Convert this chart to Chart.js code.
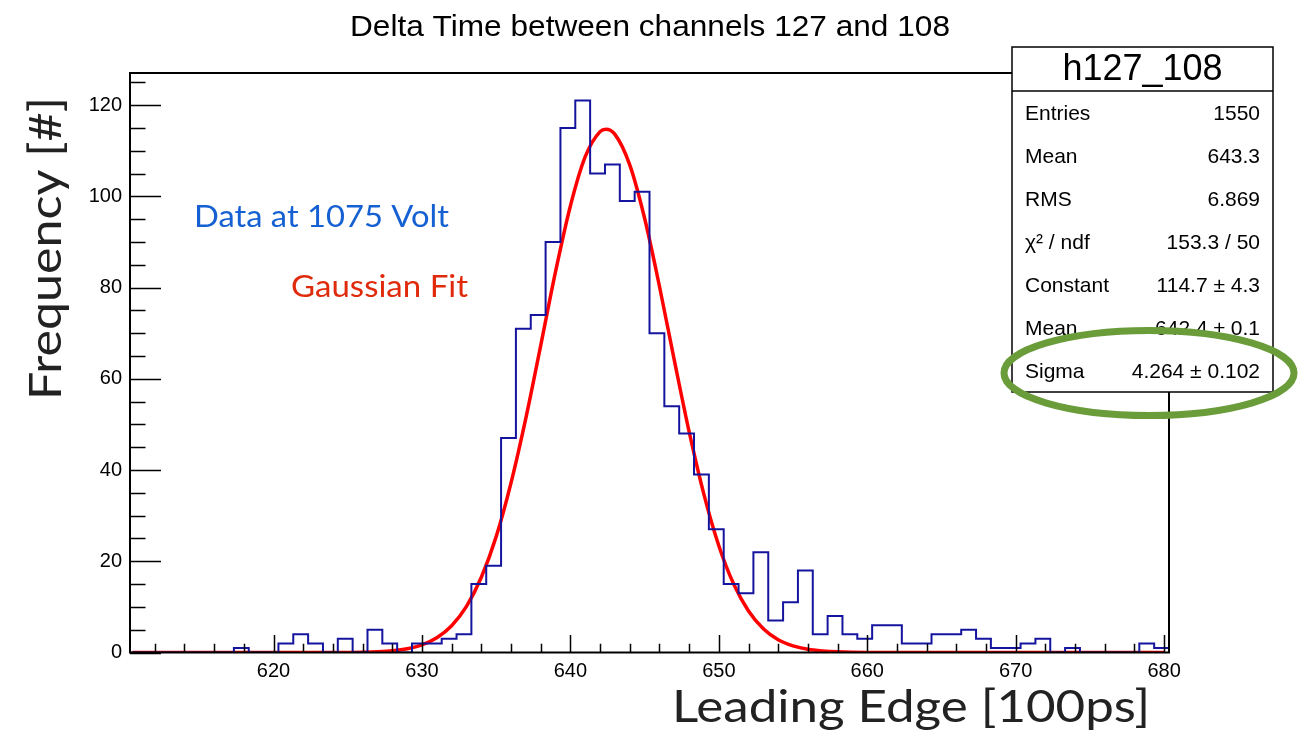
<!DOCTYPE html>
<html>
<head>
<meta charset="utf-8">
<script src="https://cdn.jsdelivr.net/npm/chart.js@4/dist/chart.umd.min.js"></script>
<style>
html,body{margin:0;padding:0;background:#fff;overflow:hidden}
canvas{display:block}
</style>
</head>
<body>
<canvas id="c" width="1298" height="736"></canvas>
<script>
// ---------- data ----------
const binLow = 610.33;
const binWidth = 1;
const counts = [
  0,0,0,0,0,0,0,1,0,0,
  2,4,2,0,3,0,5,2,0,2,
  2,3,4,15,19,47,71,74,90,115,
  121,105,107,99,101,70,54,48,39,27,
  15,13,22,7,11,18,4,8,4,3,
  6,6,2,2,4,4,5,3,1,1,
  2,3,0,1,0,0,0,0,2,1
];
const fitX = [610.5,620,624,626,627,628,629,630,631,632,633,634,635,636,637,638,639,640,641,642,642.4,643,644,645,646,647,648,649,650,651,652,653,654,655,656,657,658,660,670,680];
const fitY = [0,0,0.01,0.07,0.17,0.38,0.82,1.67,3.22,5.86,10.1,16.5,25.4,37.2,51.4,67.3,83.5,97.9,108.7,114.2,114.7,113.6,106.9,95.2,80.3,64.1,48.4,34.6,23.4,15.0,9.1,5.2,2.8,1.46,0.7,0.33,0.14,0.02,0,0];
const xTicks = [620,630,640,650,660,670,680];
const yTicks = [0,20,40,60,80,100,120];
const yMax = 127.05;
const chartTitle = 'Delta Time between channels 127 and 108';
const xTitle = 'Leading Edge [100ps]';
const yTitle = 'Frequency [#]';
const statsName = 'h127_108';
const statsLabels = ['Entries','Mean','RMS','\u03C7\u00B2 / ndf','Constant','Mean','Sigma'];
const statsValues = ['1550','643.3','6.869','153.3 / 50','114.7 \u00B1 4.3','642.4 \u00B1 0.1','4.264 \u00B1 0.102'];
const noteData = 'Data at 1075 Volt';
const noteFit = 'Gaussian Fit';

// ---------- build datasets ----------
const histPoints = counts.map((c, i) => ({x: binLow + i * binWidth, y: c}));
histPoints.push({x: binLow + counts.length * binWidth, y: counts[counts.length - 1]});
const fitPoints = fitX.map((x, i) => ({x: x, y: fitY[i]}));

const SANS = '"Liberation Sans", Arial, Helvetica, sans-serif';
const GEO = 'Lato, "Open Sans", sans-serif';

function drawText(ctx, text, x, y, o) {
  ctx.save();
  ctx.font = (o.weight || 'normal') + ' ' + o.size + 'px ' + o.family;
  ctx.fillStyle = o.color || '#000';
  ctx.textBaseline = o.baseline || 'alphabetic';
  ctx.textAlign = 'left';
  ctx.translate(x, y);
  if (o.rotate) ctx.rotate(o.rotate);
  const w = ctx.measureText(text).width;
  let sx = 1;
  if (o.width) sx = o.width / w;
  ctx.scale(sx, 1);
  let dx = 0;
  const ew = o.width ? o.width / sx : w;
  if (o.align === 'right') dx = -ew;
  else if (o.align === 'center') dx = -ew / 2;
  ctx.fillText(text, dx, 0);
  ctx.restore();
}

const rootDecor = {
  id: 'rootDecor',
  afterDatasetsDraw(chart) {
    const ctx = chart.ctx;
    const a = chart.chartArea;
    const xs = chart.scales.x, ys = chart.scales.y;
    ctx.save();
    ctx.strokeStyle = '#000';
    ctx.lineWidth = 1.5;
    ctx.beginPath();
    for (let v = 612; v <= xs.max + 1e-6; v += 2) {
      const px = Math.round(xs.getPixelForValue(v)) + 0.5;
      const len = (v % 10 === 0) ? 17.5 : 8.7;
      ctx.moveTo(px, a.bottom);
      ctx.lineTo(px, a.bottom - len);
    }
    for (let v = 0; v <= ys.max + 1e-6; v += 5) {
      const py = Math.round(ys.getPixelForValue(v)) + 0.5;
      const len = (v % 20 === 0) ? 31 : 15.5;
      ctx.moveTo(a.left, py);
      ctx.lineTo(a.left + len, py);
    }
    ctx.stroke();
    ctx.lineWidth = 2;
    ctx.strokeRect(a.left, a.top, a.right - a.left, a.bottom - a.top);
    ctx.restore();
  },
  afterDraw(chart) {
    const ctx = chart.ctx;
    // title
    drawText(ctx, chartTitle, 650, 36, {size: 30, family: SANS, align: 'center', width: 600});
    // stats box
    const bx = 1012, by = 47, bw = 261, bh = 345, hh = 44;
    ctx.save();
    ctx.fillStyle = '#fff';
    ctx.fillRect(bx, by, bw, bh);
    ctx.strokeStyle = '#000';
    ctx.lineWidth = 1.5;
    ctx.strokeRect(bx, by, bw, bh);
    ctx.beginPath();
    ctx.moveTo(bx, by + hh);
    ctx.lineTo(bx + bw, by + hh);
    ctx.stroke();
    ctx.restore();
    drawText(ctx, statsName, bx + bw / 2, by + hh / 2 + 1, {size: 36, family: SANS, align: 'center', baseline: 'middle'});
    statsLabels.forEach((lab, i) => {
      const cy = 114 + i * 43;
      drawText(ctx, lab, 1025, cy, {size: 21, family: SANS, baseline: 'middle'});
      drawText(ctx, statsValues[i], 1260, cy, {size: 21, family: SANS, align: 'right', baseline: 'middle'});
    });
    // green ellipse
    ctx.save();
    ctx.strokeStyle = '#6a9c3a';
    ctx.lineWidth = 7;
    ctx.beginPath();
    ctx.ellipse(1149, 373, 145, 42.5, 0, 0, Math.PI * 2);
    ctx.stroke();
    ctx.restore();
    // axis titles and notes
    drawText(ctx, xTitle, 672, 722, {size: 45, family: GEO, color: '#222', width: 478});
    drawText(ctx, yTitle, 61, 400, {size: 44, family: GEO, color: '#222', width: 303, rotate: -Math.PI / 2});
    drawText(ctx, noteData, 194, 227, {size: 30, family: GEO, color: '#1560d2', width: 255});
    drawText(ctx, noteFit, 291, 297, {size: 30, family: GEO, color: '#e02a0c', width: 177});
  }
};

new Chart(document.getElementById('c').getContext('2d'), {
  type: 'line',
  data: {
    datasets: [
      {
        label: 'Data',
        data: histPoints,
        stepped: 'before',
        borderColor: '#14149e',
        borderWidth: 2,
        pointRadius: 0,
        fill: false,
        tension: 0
      },
      {
        label: 'Gaussian Fit',
        data: fitPoints,
        borderColor: '#ff0000',
        borderWidth: 3.5,
        pointRadius: 0,
        fill: false,
        cubicInterpolationMode: 'monotone'
      }
    ]
  },
  options: {
    responsive: false,
    animation: false,
    devicePixelRatio: 1,
    layout: {padding: {left: 0, right: 129, top: 73, bottom: 0}},
    plugins: {
      legend: {display: false},
      tooltip: {enabled: false},
      title: {display: false}
    },
    scales: {
      x: {
        type: 'linear',
        min: binLow,
        max: binLow + counts.length * binWidth,
        grid: {display: false, drawTicks: false},
        border: {display: false},
        afterBuildTicks: s => { s.ticks = xTicks.map(v => ({value: v})); },
        afterFit: s => { s.height = 83.5; },
        ticks: {autoSkip: false, maxRotation: 0, padding: 7, color: '#000', font: {family: SANS, size: 20}}
      },
      y: {
        type: 'linear',
        min: 0,
        max: yMax,
        grid: {display: false, drawTicks: false},
        border: {display: false},
        afterBuildTicks: s => { s.ticks = yTicks.map(v => ({value: v})); },
        afterFit: s => { s.width = 130; },
        ticks: {autoSkip: false, padding: 8, color: '#000', font: {family: SANS, size: 20}}
      }
    }
  },
  plugins: [rootDecor]
});
</script>
</body>
</html>
